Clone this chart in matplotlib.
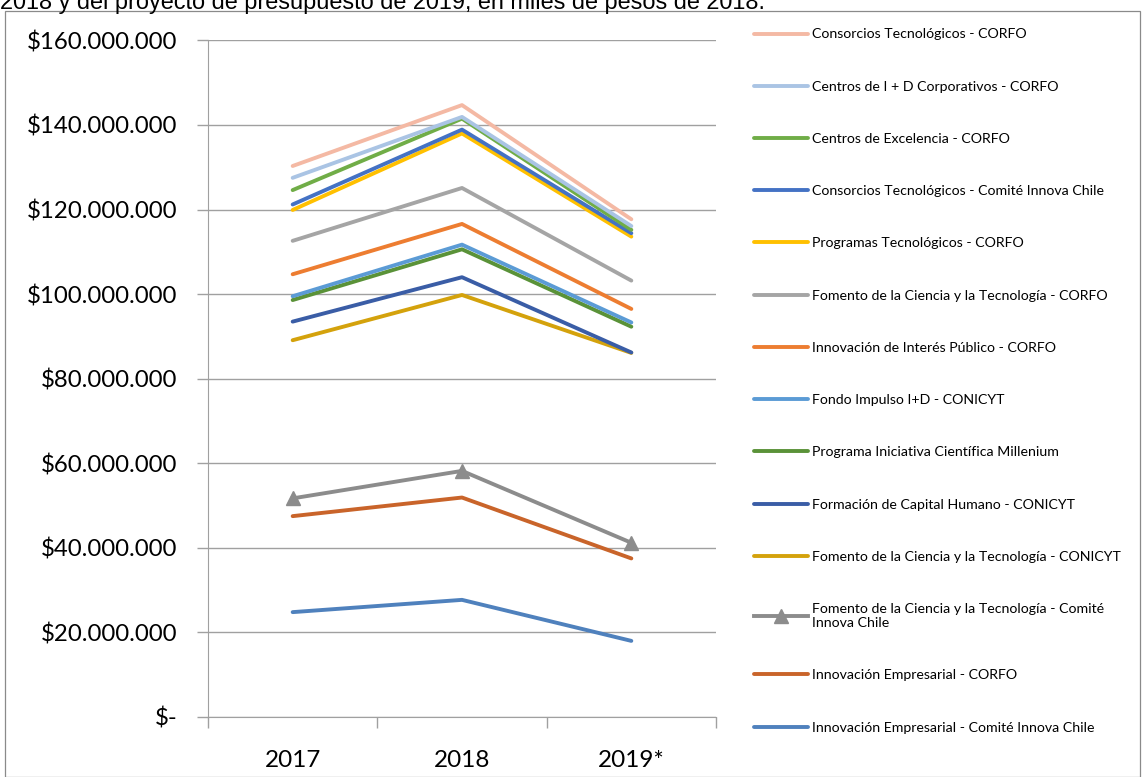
import numpy as np
import matplotlib.pyplot as plt
from matplotlib.patches import Rectangle
from matplotlib.ticker import FuncFormatter

years = ['2017', '2018', '2019*']

# series from the bottom of the stack to the top (values in millions of pesos)
names = [
    'Innovación Empresarial - Comité Innova Chile',
    'Innovación Empresarial - CORFO',
    'Fomento de la Ciencia y la Tecnología - Comité\nInnova Chile',
    'Fomento de la Ciencia y la Tecnología - CONICYT',
    'Formación de Capital Humano - CONICYT',
    'Programa Iniciativa Científica Millenium',
    'Fondo Impulso I+D - CONICYT',
    'Innovación de Interés Público - CORFO',
    'Fomento de la Ciencia y la Tecnología - CORFO',
    'Programas Tecnológicos - CORFO',
    'Consorcios Tecnológicos - Comité Innova Chile',
    'Centros de Excelencia - CORFO',
    'Centros de I + D Corporativos - CORFO',
    'Consorcios Tecnológicos - CORFO',
]
ie_innova = [24.8, 27.7, 18.0]
ie_corfo = [22.7, 24.2, 19.5]
fomento_innova = [4.2, 6.3, 3.7]
fomento_conicyt = [37.4, 41.6, 44.9]
formacion = [4.4, 4.2, 0.1]
millenium = [5.1, 6.6, 6.1]
fondo_impulso = [0.9, 1.1, 1.0]
interes_publico = [5.2, 4.9, 3.2]
fomento_corfo = [7.9, 8.5, 6.7]
programas = [7.3, 12.9, 10.4]
consorcios_innova = [1.3, 0.9, 0.8]
excelencia = [3.4, 2.6, 0.8]
centros_id = [2.9, 0.4, 0.9]
consorcios_corfo = [2.8, 2.8, 1.6]

series = [ie_innova, ie_corfo, fomento_innova, fomento_conicyt, formacion,
          millenium, fondo_impulso, interes_publico, fomento_corfo, programas,
          consorcios_innova, excelencia, centros_id, consorcios_corfo]
colors = ['#4F81BD', '#C9642A', '#8C8C8C', '#D4A20C', '#3A5DA6', '#5A9238',
          '#5B9BD5', '#ED7D31', '#A5A5A5', '#FFC000', '#4472C4', '#70AD47',
          '#AAC4E4', '#F4B9A4']

stacked = np.cumsum(np.array(series) * 1e6, axis=0)

fig = plt.figure(figsize=(11.42, 7.77), dpi=100)
fig.patches.append(Rectangle((5 / 1142, 0), 1135 / 1142, 1 - 11 / 777,
                             transform=fig.transFigure, fill=False,
                             edgecolor='#8a8a8a', linewidth=0.9))
fig.text(0.0, 1 - 8.5 / 777, '2018 y del proyecto de presupuesto de 2019, en miles de pesos de 2018.',
         fontsize=16.9, family='Liberation Sans', va='baseline', ha='left')

ax = fig.add_axes([208 / 1142, 1 - 717 / 777, 508 / 1142, 676.6 / 777])
x = np.arange(len(years))
handles = []
for i, (vals, c) in enumerate(zip(stacked, colors)):
    if i == 2:
        h, = ax.plot(x, vals, color=c, lw=2.8, marker='^', markersize=10,
                     label=names[i])
    else:
        h, = ax.plot(x, vals, color=c, lw=2.8, solid_capstyle='round',
                     label=names[i])
    handles.append(h)

ax.set_xlim(-0.5, 2.5)
ax.set_ylim(0, 160e6)
ax.set_yticks(np.arange(0, 160e6 + 1, 20e6))
ax.yaxis.set_major_formatter(FuncFormatter(
    lambda v, p: '$-' if v == 0 else '$' + f'{v:,.0f}'.replace(',', '.')))
ax.set_xticks(x)
ax.set_xticklabels(years)
ax.set_xticks([-0.5, 0.5, 1.5, 2.5], minor=True)
ax.tick_params(axis='x', which='major', length=0, pad=24, labelsize=17.5)
ax.tick_params(axis='x', which='minor', length=8, color='#a0a0a0', width=1)
ax.tick_params(axis='y', length=8, color='#a0a0a0', width=1, pad=14, labelsize=17.3)
for lab in ax.get_xticklabels() + ax.get_yticklabels():
    lab.set_family('Lato')
ax.grid(axis='y', color='#a0a0a0', lw=1)
ax.set_axisbelow(True)
for s in ['top', 'right']:
    ax.spines[s].set_visible(False)
ax.spines['left'].set_color('#a0a0a0')
ax.spines['bottom'].set_color('#a0a0a0')

fig.legend(handles=handles[::-1], loc='upper left',
           bbox_to_anchor=(754 / 1142, 1 - 28.5 / 777), frameon=False,
           prop={'family': 'Lato', 'size': 10.2}, handlelength=3.8,
           handletextpad=0.3, labelspacing=2.84, borderpad=0, borderaxespad=0)

fig.savefig('out.png', dpi=100)
